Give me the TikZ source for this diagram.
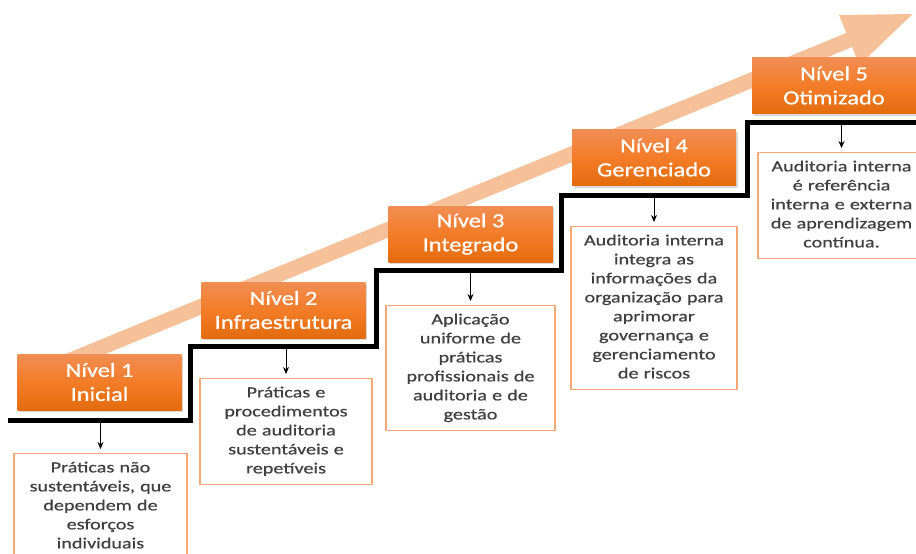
\documentclass[tikz,border=0pt]{standalone}
\usepackage{fontspec}
\setmainfont{Carlito}
\newfontfamily\lvlfont[FakeStretch=1.22,FakeBold=0.7]{Carlito}
\newfontfamily\descfont[FakeStretch=1.3,FakeBold=0.6]{Carlito}
\usetikzlibrary{arrows.meta,shadows}
\definecolor{lvltop}{RGB}{241,142,84}
\definecolor{lvlmid}{RGB}{243,124,40}
\definecolor{lvlbot}{RGB}{228,108,14}
\definecolor{bandcol}{RGB}{246,192,152}
\definecolor{desccol}{RGB}{245,168,118}
\definecolor{txtgray}{RGB}{64,64,64}
\tikzset{
	lvlbox/.style={minimum width=164pt, minimum height=56pt, inner sep=0pt,
		top color=lvltop, bottom color=lvlbot, middle color=lvlmid,
		text=white, align=center, font=\lvlfont\fontsize{20}{24}\selectfont,
		drop shadow={shadow xshift=1.5pt, shadow yshift=-2pt, opacity=0.3}},
	descbox/.style={draw=desccol, line width=1.2pt, anchor=north, text=txtgray,
		align=center, text width=#1, inner xsep=2pt, inner ysep=5.5pt,
		font=\descfont\fontsize{15.5}{19}\selectfont,
		execute at begin node=\strut, execute at end node=\strut}
}
\begin{document}
\begin{tikzpicture}[x=1pt, y=-1pt, line join=round, line cap=round,
			>={Stealth[length=7pt,width=6pt]}]
			\def \xmax{916}
			\def \ymax{554}
			\useasboundingbox (0,0) rectangle (\xmax,\ymax);
			% rising band
			\fill[bandcol] (63.1,355) -- (846.3,33) -- (839,15) -- (912.7,14)
				-- (859.4,65) -- (852.1,47) -- (68.9,369) -- cycle;
			% staircase
			\draw[line width=5pt, line join=miter, line cap=butt] (8,420) -| (190.5,346)
				-| (376,270) -| (561.5,195.5) -| (747,122.5) -- (925,122.5);
			\foreach \n/\lx/\ly/\ttl in {1/99.5/382/Inicial, 2/283.5/310/Infraestrutura,
				3/470.5/234/Integrado, 4/654/157.5/Gerenciado, 5/834/85.5/Otimizado}
			\node[lvlbox] (lvl\n) at (\lx,\ly) {Nível \n\\\ttl};
			\node[descbox=169pt] (desc1) at (100.5,453) {Práticas não\\sustentáveis, que\\dependem de\\esforços\\individuais};
			\node[descbox=168pt] (desc2) at (286,378) {Práticas e\\procedimentos\\de auditoria\\sustentáveis e\\repetíveis};
			\node[descbox=165pt] (desc3) at (470.5,305) {Aplicação\\uniforme de\\práticas\\profissionais de\\auditoria e de\\gestão};
			\node[descbox=162pt] (desc4) at (654,226) {Auditoria interna\\integra as\\informações da\\organização para\\aprimorar\\governança e\\gerenciamento\\de riscos};
			\node[descbox=163pt] (desc5) at (841.5,152) {Auditoria interna\\é referência\\interna e externa\\de aprendizagem\\contínua.};
			\foreach \n/\sx/\sy in {1/100.5/420, 2/286/346, 3/470.5/270, 4/654/195.5, 5/841.5/122.5}
			\coordinate (st\n) at (\sx,\sy);
			\foreach \n in {1,...,5}
			\draw[->, line width=0.9pt, shorten <=2.5pt, shorten >=4pt] (st\n) -- (desc\n);
	\end{tikzpicture}
\end{document}
